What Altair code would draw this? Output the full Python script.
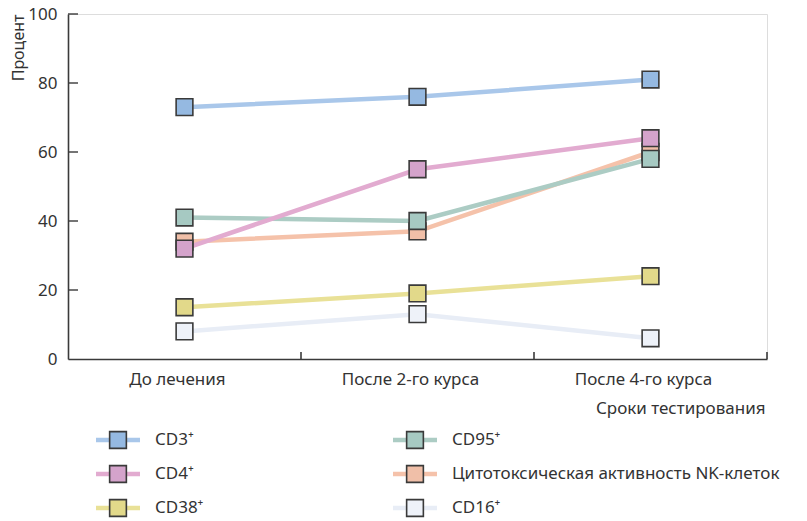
import altair as alt
import pandas as pd

# ---- data ----
times = ["До лечения", "После 2-го курса", "После 4-го курса"]
series = ["CD3⁺", "CD4⁺", "CD38⁺", "CD95⁺", "Цитотоксическая активность NK-клеток", "CD16⁺"]
cd3 = [73, 76, 81]
cd4 = [32, 55, 64]
cd38 = [15, 19, 24]
cd95 = [41, 40, 58]
nk = [34, 37, 60]
cd16 = [8, 13, 6]
y_ticks = [20, 40, 60, 80, 100]
legend_col = [0, 0, 0, 1, 1, 1]
legend_row = [0, 1, 2, 0, 1, 2]
draw_order = [5, 4, 2, 3, 0, 1]  # stacking order of the squares (NK lowest)

line_colors = ["#a9c7ea", "#e2abd0", "#e9e197", "#acccc4", "#f5c2aa", "#e8edf6"]
fill_colors = ["#95b9e1", "#d4a3cb", "#e2d98a", "#a6c9c2", "#f0bfa8", "#eef2f9"]

values = [cd3, cd4, cd38, cd95, nk, cd16]
rows = []
for s, vals, o in zip(series, values, draw_order):
    for t, v in zip(times, vals):
        rows.append({"series": s, "time": t, "value": v, "ord": o})
df = pd.DataFrame(rows).sort_values("ord", kind="stable").reset_index(drop=True)
df_ticks = pd.DataFrame({"v": y_ticks})
df_times = pd.DataFrame({"time": times})
df_leg = pd.DataFrame({"series": series, "col": legend_col, "row": legend_row})

FONT = "Noto Sans"
AXC = "#3a3a3a"
TXT = "#333333"
W, H = 699, 345

line_scale = alt.Scale(domain=series, range=line_colors)
fill_scale = alt.Scale(domain=series, range=fill_colors)
xscale = alt.Scale(type="band", domain=times, paddingInner=0, paddingOuter=0)
yscale = alt.Scale(domain=[0, 100])

x_enc = alt.X(
    "time:N", sort=times, scale=xscale, bandPosition=0.5,
    axis=alt.Axis(
        title="Сроки тестирования", ticks=False, tickSize=0, labelAngle=0,
        labelFontSize=17, labelColor=TXT, labelFont=FONT, labelPadding=12,
        labelOffset=-7, domainColor=AXC, domainWidth=1.6,
        titleFont=FONT, titleFontSize=17, titleFontWeight="normal", titleColor=TXT,
        titleX=697, titleY=49, titleAlign="right", titleBaseline="middle",
    ),
)
y_enc = alt.Y(
    "value:Q", scale=yscale,
    axis=alt.Axis(
        title="Процент", values=[0, 20, 40, 60, 80, 100], ticks=False, tickSize=0,
        grid=False, labelFontSize=17, labelColor=TXT, labelFont=FONT, labelPadding=11,
        domainColor=AXC, domainWidth=1.6,
        titleFont=FONT, titleFontSize=16, titleFontWeight="normal", titleColor=TXT,
        titleAngle=-90, titleX=-50, titleY=0, titleAlign="right", titleBaseline="middle",
    ),
)

lines = alt.Chart(df).mark_line(strokeWidth=4.5).encode(
    x=x_enc, y=y_enc,
    color=alt.Color("series:N", scale=line_scale, legend=None),
    detail="series:N",
)
squares = alt.Chart(df).mark_square(size=280, opacity=1, stroke=AXC, strokeWidth=1.6).encode(
    x=alt.X("time:N", sort=times, bandPosition=0.5),
    y="value:Q",
    fill=alt.Fill("series:N", scale=fill_scale, legend=None),
    order=alt.Order("ord:Q"),
)
xticks = alt.Chart(df_times).mark_rule(color=AXC, strokeWidth=1.6).encode(
    x=alt.X("time:N", sort=times, bandPosition=1),
    y=alt.value(H),
    y2=alt.value(H - 7),
)
yticks = alt.Chart(df_ticks).mark_rule(color=AXC, strokeWidth=1.4).encode(
    y=alt.Y("v:Q"),
    x=alt.value(0),
    x2=alt.value(10),
)
main = alt.layer(lines, yticks, xticks, squares)

# ---- legend (drawn with its own scales) ----
lx = alt.X("col:Q", scale=alt.Scale(domain=[0, 1], range=[50, 347]), axis=None)
ly = alt.Y("row:Q", scale=alt.Scale(domain=[0, 2], range=[426, 494]), axis=None)
leg_lines = alt.Chart(df_leg).mark_rule(strokeWidth=4.5, xOffset=-22, x2Offset=22).encode(
    x=lx, x2="col:Q", y=ly,
    color=alt.Color("series:N", scale=line_scale, legend=None),
)
leg_sq = alt.Chart(df_leg).mark_square(size=280, opacity=1, stroke=AXC, strokeWidth=1.6).encode(
    x=lx, y=ly,
    fill=alt.Fill("series:N", scale=fill_scale, legend=None),
)
leg_txt = alt.Chart(df_leg).mark_text(
    align="left", baseline="middle", dx=37, fontSize=17, font=FONT, color=TXT
).encode(x=lx, y=ly, text="series:N")
legend = alt.layer(leg_lines, leg_sq, leg_txt)

chart = (
    alt.layer(main, legend)
    .resolve_scale(x="independent", y="independent")
    .properties(
        width=W, height=H,
        autosize=alt.AutoSizeParams(type="none"),
        padding={"left": 68, "top": 14, "right": 40, "bottom": 162},
    )
    .configure_view(stroke=None)
    .configure(background="white")
)

chart.save("out.html", embed_options={"renderer": "svg", "actions": False})
